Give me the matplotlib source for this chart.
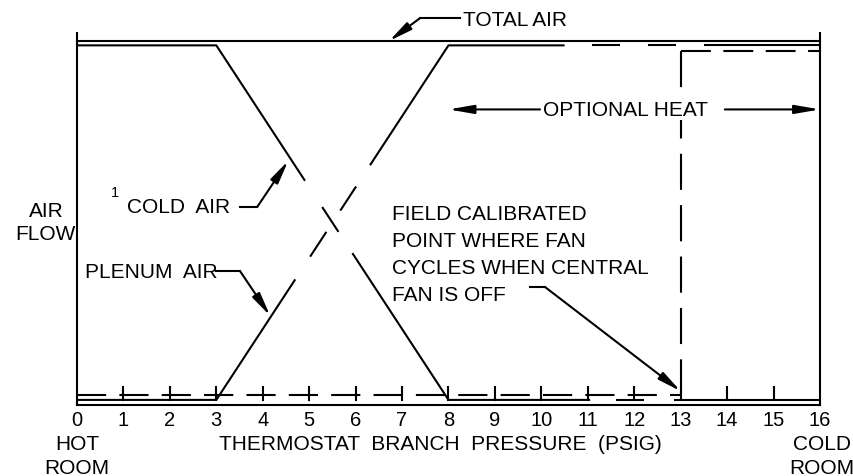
import matplotlib
matplotlib.use('Agg')
import matplotlib.pyplot as plt
import numpy as np

plt.rcParams['font.family'] = ['Liberation Sans', 'DejaVu Sans']
plt.rcParams['lines.scale_dashes'] = False

# thermostat branch pressure (psig) vs air flow (% of total, drawn offsets included)
pressure = [0, 3, 8, 16]
cold_air = [98.8, 98.8, 1.4, 1.4]
plenum_air = [1.4, 1.4, 98.8, 98.8]
total_x = [0, 16]
total_air = [100, 100]
heat_x = [0, 13, 13, 16]
heat_y = [2.75, 2.75, 97.2, 97.2]
ticks = list(range(17))

# where the lines are drawn (breaks at the crossing / optional parts)
cold_on = [(0, 4.91), (5.28, 5.63), (5.93, 11.05), (11.6, 12.2), (12.85, 16)]
plenum_on = [(0, 4.70), (5.02, 5.37), (5.67, 6.01), (6.31, 10.5),
             (11.1, 11.7), (12.3, 12.9), (13.5, 16)]

LW = 1.5
K = 'black'
FS = 15


def pieces(ax, xs, ys, on):
    for a, b in on:
        xx = [a] + [x for x in xs if a < x < b] + [b]
        ax.plot(xx, np.interp(xx, xs, ys), color=K, lw=LW, clip_on=False,
                solid_capstyle='butt')


def leader(ax, hx, hy, tip, start):
    # short horizontal stub, then arrow to the curve
    ax.plot(hx, [hy, hy], color=K, lw=LW, clip_on=False)
    ax.annotate('', xy=tip, xytext=(start, hy),
                arrowprops=dict(arrowstyle='-|>,head_length=0.7,head_width=0.13',
                                mutation_scale=20, color=K, lw=LW,
                                shrinkA=0, shrinkB=0))


fig = plt.figure(figsize=(8.54, 4.77), dpi=100)
ax = fig.add_axes([77 / 854, 71 / 477, 743 / 854, 364 / 477])
ax.set_xlim(0, 16)
ax.set_ylim(0, 100)
ax.axis('off')

# frame
ax.plot([0, 16], [0, 0], color=K, lw=LW, clip_on=False)
ax.plot([0, 0], [0, 102.2], color=K, lw=LW, clip_on=False)
ax.plot([16, 16], [0, 102.2], color=K, lw=LW, clip_on=False)
for t in ticks[1:-1]:
    ax.plot([t, t], [1.4, 4.9], color=K, lw=LW, clip_on=False)
for t in ticks:
    ax.text(t, -4.0, str(t), ha='center', va='center', fontsize=14.5)

# curves
ax.plot(total_x, total_air, color=K, lw=LW, clip_on=False)
pieces(ax, pressure, cold_air, cold_on)
pieces(ax, pressure, plenum_air, plenum_on)

heat_dash = [(0, (21, 9.5)), (0, (26, 11)), (0, (21.5, 9))]
for i, ls in enumerate(heat_dash):
    if i == 1:
        xs, ys = [heat_x[2], heat_x[1]], [heat_y[2], heat_y[1]]
    else:
        xs, ys = heat_x[i:i + 2], heat_y[i:i + 2]
    ax.plot(xs, ys, color=K, lw=LW, ls=ls, clip_on=False)

# labels
ax.text(8.31, 106.0, 'TOTAL AIR', ha='left', va='center', fontsize=FS)
leader(ax, [7.39, 8.25], 106.3, (6.72, 100), 7.39)

ax.text(10.03, 81.2, 'OPTIONAL HEAT', ha='left', va='center', fontsize=FS,
        bbox=dict(fc='white', ec='none', pad=1), zorder=5)
for x0, x1 in [(9.97, 8.0), (13.95, 16)]:
    ax.annotate('', xy=(x1, 81.2), xytext=(x0, 81.2),
                arrowprops=dict(arrowstyle='-|>,head_length=0.75,head_width=0.13',
                                mutation_scale=20, color=K, lw=LW,
                                shrinkA=0, shrinkB=0))

ax.text(-0.67, 53.4, 'AIR', ha='center', va='center', fontsize=FS)
ax.text(-0.67, 47.2, 'FLOW', ha='center', va='center', fontsize=FS)

ax.text(0.82, 58.5, '1', ha='center', va='center', fontsize=10.5)
ax.text(1.08, 54.5, 'COLD  AIR', ha='left', va='center', fontsize=FS)
leader(ax, [3.51, 3.88], 54.4,
       (4.55, np.interp(4.55, pressure, cold_air) - 1.5), 3.88)

ax.text(0.17, 36.8, 'PLENUM  AIR', ha='left', va='center', fontsize=FS)
leader(ax, [2.99, 3.51], 36.8,
       (4.16, np.interp(4.16, pressure, plenum_air) + 0.5), 3.51)

field = ['FIELD CALIBRATED', 'POINT WHERE FAN', 'CYCLES WHEN CENTRAL', 'FAN IS OFF']
for i, s in enumerate(field):
    ax.text(6.78, 52.5 - i * 7.35, s, ha='left', va='center', fontsize=FS)
leader(ax, [9.75, 10.08], 32.4, (13, 3.8), 10.08)

ax.text(0, -10.7, 'HOT', ha='center', va='center', fontsize=FS)
ax.text(0, -17.3, 'ROOM', ha='center', va='center', fontsize=FS)
ax.text(16.04, -10.7, 'COLD', ha='center', va='center', fontsize=FS)
ax.text(16.04, -17.3, 'ROOM', ha='center', va='center', fontsize=FS)
ax.text(7.82, -10.7, 'THERMOSTAT  BRANCH  PRESSURE  (PSIG)', ha='center',
        va='center', fontsize=FS)

fig.savefig('out.png', dpi=100, facecolor='white')
